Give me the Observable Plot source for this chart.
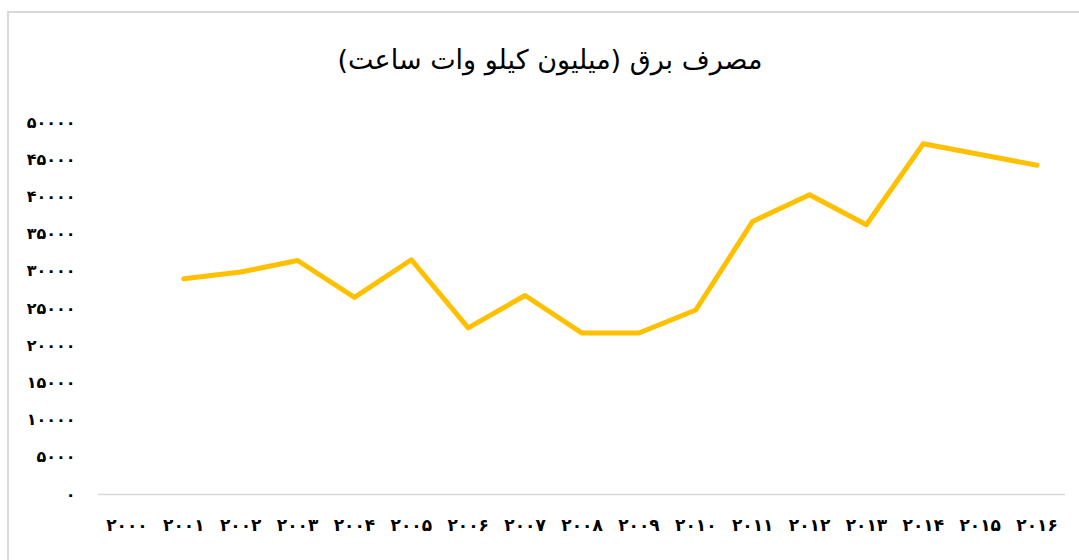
<!DOCTYPE html>
<html>
<head>
<meta charset="utf-8">
<script src="https://cdn.jsdelivr.net/npm/d3@7"></script>
<script src="https://cdn.jsdelivr.net/npm/@observablehq/plot@0.6"></script>
<style>
  html, body { margin: 0; padding: 0; background: #fff; overflow: hidden; width: 1079px; height: 560px; }
  #frame { position: absolute; left: 7px; top: 11px; width: 1200px; height: 700px; border-left: 2px solid #d9d9d9; border-top: 2px solid #d9d9d9; }
  #title { position: absolute; left: 0; width: 1100px; top: 44px; text-align: center; font-family: "DejaVu Sans", "Noto Sans", sans-serif; font-size: 27px; color: #000; direction: rtl; }
  #chart { position: absolute; left: 0; top: 0; }
</style>
</head>
<body>
<div id="frame"></div>
<div id="title">مصرف برق (میلیون کیلو وات ساعت)</div>
<div id="chart"></div>
<script>
const years = [2000, 2001, 2002, 2003, 2004, 2005, 2006, 2007, 2008, 2009, 2010, 2011, 2012, 2013, 2014, 2015, 2016];
const lineYears = [2001, 2002, 2003, 2004, 2005, 2006, 2007, 2008, 2009, 2010, 2011, 2012, 2013, 2014, 2015, 2016];
const consumption = [29000, 29900, 31450, 26500, 31550, 22400, 26750, 21700, 21700, 24800, 36700, 40300, 36250, 47150, 45700, 44250];
const yTicks = [0, 5000, 10000, 15000, 20000, 25000, 30000, 35000, 40000, 45000, 50000];

const fa = s => String(s).replace(/\d/g, c => "۰۱۲۳۴۵۶۷۸۹"[+c]);
const data = lineYears.map((y, i) => ({year: y, value: consumption[i]}));

const chart = Plot.plot({
  width: 1079,
  height: 560,
  marginLeft: 98,
  marginRight: 14,
  marginTop: 122,
  marginBottom: 66,
  style: {fontFamily: "DejaVu Sans, Noto Sans, sans-serif", background: "transparent", overflow: "visible"},
  x: {type: "point", domain: years, padding: 0.5, round: false},
  y: {domain: [0, 50000]},
  marks: [
    Plot.ruleY([0], {stroke: "#d9d9d9", strokeWidth: 1.5}),
    Plot.axisY({ticks: yTicks, tickFormat: fa, tickSize: 0, tickPadding: 23, fontSize: 16, fontWeight: "bold", fill: "#000", label: null}),
    Plot.axisX({ticks: years, tickFormat: fa, tickSize: 0, tickPadding: 24, fontSize: 17, fontWeight: "bold", fill: "#000", label: null}),
    Plot.line(data, {x: "year", y: "value", stroke: "#FFC000", strokeWidth: 5, strokeLinecap: "round", strokeLinejoin: "round"})
  ]
});
document.getElementById("chart").appendChild(chart);
</script>
</body>
</html>
